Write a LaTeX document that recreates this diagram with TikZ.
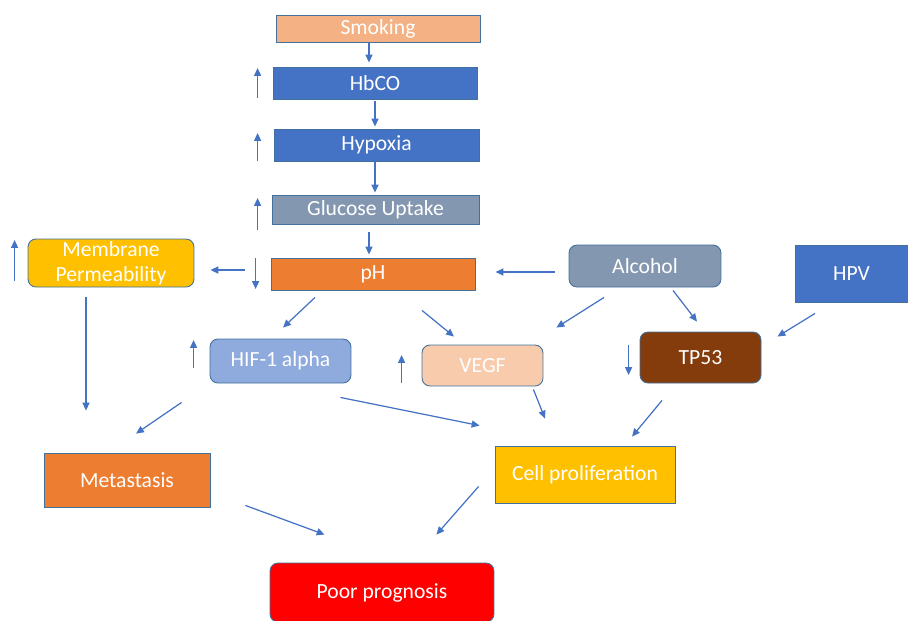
\documentclass[tikz,border=0pt]{standalone}
\usepackage{fontspec}
\setmainfont{Carlito}
\usetikzlibrary{arrows.meta}

\definecolor{boxline}{HTML}{41719C}
\definecolor{linkblue}{HTML}{4472C4}
\definecolor{salmon}{HTML}{F4B183}
\definecolor{darkblue}{HTML}{4472C4}
\definecolor{greyblue}{HTML}{8497B0}
\definecolor{orange}{HTML}{ED7D31}
\definecolor{gold}{HTML}{FFC000}
\definecolor{lightblue}{HTML}{8FAADC}
\definecolor{peach}{HTML}{F8CBAD}
\definecolor{brown}{HTML}{843C0C}

\tikzset{
	box/.style={draw=boxline, line width=0.5pt, text=white, inner sep=0pt,
		align=center, font=\fontsize{12.3}{14.5}\selectfont},
	rbox/.style={box, rounded corners=0.16cm},
	link/.style={draw=linkblue, line width=0.7pt, -{Triangle[length=4.5pt,width=4pt]}}
}

\begin{document}
\begin{tikzpicture}[x=0.02cm, y=-0.02cm]
	\useasboundingbox (0,0) rectangle (908,620);

	% main chain
	\node[box, fill=salmon, minimum width=4.08cm, minimum height=0.54cm] (smoking) at (378,28.5) {Smoking};
	\node[box, fill=darkblue, minimum width=4.08cm, minimum height=0.64cm] (hbco) at (375,83) {HbCO};
	\node[box, fill=darkblue, minimum width=4.10cm, minimum height=0.64cm] (hypoxia) at (376.5,145) {Hypoxia};
	\node[box, fill=greyblue, minimum width=4.14cm, minimum height=0.58cm] (glucose) at (375.5,209.5) {Glucose Uptake};
	\node[box, fill=orange, minimum width=4.08cm, minimum height=0.64cm] (ph) at (373,274) {pH};

	\node[rbox, fill=gold, minimum width=3.32cm, minimum height=0.96cm] (membrane) at (111,263) {Membrane\\Permeability};
	\node[rbox, fill=greyblue, minimum width=3.04cm, minimum height=0.84cm] (alcohol) at (645,266) {Alcohol};
	\node[box, fill=darkblue, minimum width=2.26cm, minimum height=1.14cm] (hpv) at (851.5,273.5) {HPV};
	\node[rbox, fill=lightblue, minimum width=2.82cm, minimum height=0.88cm] (hif) at (280.5,361) {HIF-1 alpha};
	\node[rbox, fill=peach, minimum width=2.42cm, minimum height=0.82cm] (vegf) at (482.5,365.5) {VEGF};
	\node[rbox, fill=brown, minimum width=2.42cm, minimum height=1.02cm] (tp53) at (700.5,357.5) {TP53};

	\node[box, fill=orange, minimum width=3.32cm, minimum height=1.08cm] (metastasis) at (127,480) {Metastasis};
	\node[box, fill=gold, minimum width=3.60cm, minimum height=1.14cm] (cell) at (585,474.5) {Cell proliferation};
	\node[rbox, fill=red, minimum width=4.48cm, minimum height=1.18cm] (poor) at (382,592.5) {Poor prognosis};

	% connectors
	\draw[link] ([shift={(-9,1)}]smoking.south) -- ([shift={(-6,-4)}]hbco.north);
	\draw[link] ([shift={(0,2)}]hbco.south) -- ([shift={(-1.5,-2)}]hypoxia.north);
	\draw[link] ([shift={(-1.5,1)}]hypoxia.south) -- ([shift={(-0.5,-2)}]glucose.north);
	\draw[link] ([shift={(-6.5,8)}]glucose.south) -- ([shift={(-4,-3)}]ph.north);
	\draw[link] ([shift={(-26,-4)}]ph.west) -- ([shift={(16,7)}]membrane.east);
	\draw[link] ([shift={(-14,6)}]alcohol.west) -- ([shift={(20,-2)}]ph.east);
	\draw[link] ([shift={(-58,7)}]ph.south) -- ([shift={(2.5,-11)}]hif.north);
	\draw[link] ([shift={(49,20)}]ph.south) -- ([shift={(-28.5,-8)}]vegf.north);
	\draw[link] ([shift={(-41,10)}]alcohol.south) -- ([shift={(13,-17)}]vegf.north east);
	\draw[link] ([shift={(28,3)}]alcohol.south) -- ([shift={(-3.5,-10)}]tp53.north);
	\draw[link] ([shift={(-36.5,11)}]hpv.south) -- ([shift={(16,5)}]tp53.north east);
	\draw[link] ([shift={(-25,10)}]membrane.south) -- ([shift={(-41,-42)}]metastasis.north);
	\draw[link] ([shift={(-28,19)}]hif.south west) -- ([shift={(9,-19)}]metastasis.north);
	\draw[link] ([shift={(-11,14)}]hif.south east) -- ([shift={(-15,-20)}]cell.north west);
	\draw[link] ([shift={(-10,3)}]vegf.south east) -- ([shift={(-40,-27)}]cell.north);
	\draw[link] ([shift={(-38.5,17)}]tp53.south) -- ([shift={(47,-9)}]cell.north);
	\draw[link] ([shift={(35,-2)}]metastasis.south east) -- ([shift={(55,-28)}]poor.north west);
	\draw[link] ([shift={(-16,-17)}]cell.south west) -- ([shift={(-58,-28)}]poor.north east);

	% up and down marks
	\draw[link] ([shift={(-15,15)}]hbco.west) -- ([shift={(-15,-15)}]hbco.west);
	\draw[link] ([shift={(-16,16)}]hypoxia.west) -- ([shift={(-16,-12)}]hypoxia.west);
	\draw[link] ([shift={(-14,20.5)}]glucose.west) -- ([shift={(-14,-11.5)}]glucose.west);
	\draw[link] ([shift={(-15,-16)}]ph.west) -- ([shift={(-15,15)}]ph.west);
	\draw[link] ([shift={(-13,18)}]membrane.west) -- ([shift={(-13,-23)}]membrane.west);
	\draw[link] ([shift={(-16,7)}]hif.west) -- ([shift={(-16,-21)}]hif.west);
	\draw[link] ([shift={(-20,17.5)}]vegf.west) -- ([shift={(-20,-10.5)}]vegf.west);
	\draw[link] ([shift={(-11,-12.5)}]tp53.west) -- ([shift={(-11,17.5)}]tp53.west);
\end{tikzpicture}
\end{document}
